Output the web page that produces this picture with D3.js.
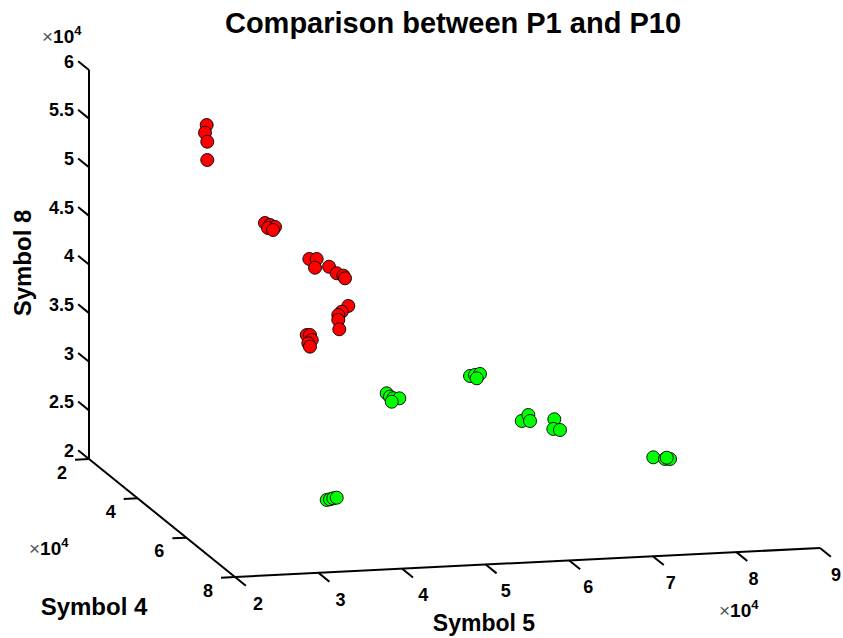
<!DOCTYPE html>
<html>
<head>
<meta charset="utf-8">
<script src="https://cdn.jsdelivr.net/npm/d3@7"></script>
<style>
  html, body { margin: 0; padding: 0; background: #fff; }
  svg { display: block; font-family: "Liberation Sans", Arial, sans-serif; }
</style>
</head>
<body>
<svg id="chart" width="843" height="638"></svg>
<script>
// ---------------- data ----------------
const title = "Comparison between P1 and P10";
const xLabel = "Symbol 5";
const yLabel = "Symbol 4";
const zLabel = "Symbol 8";

const xDomain = [20000, 90000];
const yDomain = [20000, 80000];
const zDomain = [20000, 60000];

const xTickValues = [20000, 30000, 40000, 50000, 60000, 70000, 80000, 90000];
const yTickValues = [20000, 40000, 60000, 80000];
const zTickValues = [20000, 25000, 30000, 35000, 40000, 45000, 50000, 55000, 60000];

// P1 (red)
const p1Symbol5 = [31170, 30970, 31240, 31240,
  36690, 37290, 37890, 37050, 37650,
  40540, 41420, 41220, 42900, 43820, 44610, 44810,
  43140, 43530, 43740, 43330, 43530,
  43750, 42960, 42550, 42550, 42670];
const p1Symbol4 = [30000, 30000, 30000, 30000,
  35000, 35000, 35000, 35000, 35000,
  40000, 40000, 40000, 40000, 40000, 40000, 40000,
  30000, 30000, 30000, 30000, 30000,
  45000, 45000, 45000, 45000, 45000];
const p1Symbol8 = [55890, 55110, 54170, 52290,
  46590, 46360, 46130, 46060, 45830,
  43740, 43700, 42810, 42840, 42130, 41850, 41570,
  33790, 33770, 33250, 32930, 32570,
  39780, 39230, 38900, 38390, 37430];

// P10 (green)
const p10Symbol5 = [38250, 38650, 39040, 39450,
  49800, 50190, 50590, 51310, 50400,
  56860, 57450, 58050, 57660,
  61590, 62380, 62580,
  64030, 63910, 64710,
  77330, 78730, 79330, 78940];
const p10Symbol4 = [55000, 55000, 55000, 55000,
  40000, 40000, 40000, 40000, 40000,
  50000, 50000, 50000, 50000,
  55000, 55000, 55000,
  60000, 60000, 60000,
  55000, 55000, 55000, 55000];
const p10Symbol8 = [22090, 22140, 22230, 22270,
  29530, 29170, 28990, 28950, 28640,
  33030, 33110, 33190, 32760,
  29220, 29800, 29170,
  30300, 29310, 29170,
  24810, 24580, 24550, 24700];

// ---------------- layout ----------------
const svg = d3.select("#chart");
const origin = [89, 459];          // screen point of (xmin, ymin, zmin)
const EX = [585, -29];             // screen vector of full x range
const EY = [146, 118];             // screen vector of full y range
const EZ = [0, -389];              // screen vector of full z range

const xs = d3.scaleLinear().domain(xDomain).range([0, 1]);
const ys = d3.scaleLinear().domain(yDomain).range([0, 1]);
const zs = d3.scaleLinear().domain(zDomain).range([0, 1]);

function project(x, y, z) {
  const a = xs(x), b = ys(y), c = zs(z);
  return [origin[0] + a * EX[0] + b * EY[0] + c * EZ[0],
          origin[1] + a * EX[1] + b * EY[1] + c * EZ[1]];
}
function unit(v) { const l = Math.hypot(v[0], v[1]); return [v[0] / l, v[1] / l]; }

const fmt = v => d3.format("~g")(v / 10000);
const tickLen = 14;
const tickFont = 18;
const axisG = svg.append("g").attr("stroke", "#000").attr("stroke-width", 2).attr("fill", "none");

// x axis at y = ymax, z = zmin
{
  const p0 = project(xDomain[0], yDomain[1], zDomain[0]);
  const p1 = project(xDomain[1], yDomain[1], zDomain[0]);
  axisG.append("line").attr("x1", p0[0]).attr("y1", p0[1]).attr("x2", p1[0]).attr("y2", p1[1]);
  const d = unit(EY);
  xTickValues.forEach(v => {
    const p = project(v, yDomain[1], zDomain[0]);
    axisG.append("line").attr("x1", p[0]).attr("y1", p[1])
      .attr("x2", p[0] + d[0] * tickLen).attr("y2", p[1] + d[1] * tickLen);
    svg.append("text").attr("x", p[0] + 23 - 7 * xs(v)).attr("y", p[1] + 28)
      .attr("text-anchor", "middle").attr("dominant-baseline", "middle")
      .attr("font-size", tickFont).attr("font-weight", "bold").text(fmt(v));
  });
}
// y axis at x = xmin, z = zmin
{
  const p0 = project(xDomain[0], yDomain[0], zDomain[0]);
  const p1 = project(xDomain[0], yDomain[1], zDomain[0]);
  axisG.append("line").attr("x1", p0[0]).attr("y1", p0[1]).attr("x2", p1[0]).attr("y2", p1[1]);
  const d = unit(EX);
  yTickValues.forEach(v => {
    const p = project(xDomain[0], v, zDomain[0]);
    axisG.append("line").attr("x1", p[0]).attr("y1", p[1])
      .attr("x2", p[0] - d[0] * tickLen).attr("y2", p[1] - d[1] * tickLen);
    svg.append("text").attr("x", p[0] - 27).attr("y", p[1] + 15)
      .attr("text-anchor", "middle").attr("dominant-baseline", "middle")
      .attr("font-size", tickFont).attr("font-weight", "bold").text(fmt(v));
  });
}
// z axis at x = xmin, y = ymin
{
  const p0 = project(xDomain[0], yDomain[0], zDomain[0]);
  const p1 = project(xDomain[0], yDomain[0], zDomain[1]);
  axisG.append("line").attr("x1", p0[0]).attr("y1", p0[1]).attr("x2", p1[0]).attr("y2", p1[1]);
  const d = unit(EY);
  zTickValues.forEach(v => {
    const p = project(xDomain[0], yDomain[0], v);
    axisG.append("line").attr("x1", p[0]).attr("y1", p[1])
      .attr("x2", p[0] - d[0] * tickLen).attr("y2", p[1] - d[1] * tickLen);
    svg.append("text").attr("x", p[0] - 15).attr("y", p[1] - 7)
      .attr("text-anchor", "end").attr("dominant-baseline", "middle")
      .attr("font-size", tickFont).attr("font-weight", "bold").text(fmt(v));
  });
}

// exponent labels
function expLabel(x, y) {
  const t = svg.append("text").attr("x", x).attr("y", y).attr("font-size", 19);
  t.append("tspan").attr("fill", "#555").attr("font-weight", "normal").text("\u00d7");
  t.append("tspan").attr("font-weight", "bold").text("10");
  t.append("tspan").attr("font-weight", "bold").attr("font-size", 13).attr("dy", -8).text("4");
}
expLabel(42, 43);
expLabel(29, 555);
expLabel(719, 617);

// titles
svg.append("text").attr("x", 453).attr("y", 33).attr("text-anchor", "middle")
  .attr("font-size", 29).attr("font-weight", "bold").text(title);
svg.append("text").attr("transform", "translate(31,263) rotate(-90)").attr("text-anchor", "middle")
  .attr("font-size", 24).attr("font-weight", "bold").text(zLabel);
svg.append("text").attr("x", 94).attr("y", 615).attr("text-anchor", "middle")
  .attr("font-size", 24).attr("font-weight", "bold").text(yLabel);
svg.append("text").attr("x", 484).attr("y", 631).attr("text-anchor", "middle")
  .attr("font-size", 23).attr("font-weight", "bold").text(xLabel);

// points
function drawSeries(xsArr, ysArr, zsArr, color) {
  const pts = xsArr.map((x, i) => project(x, ysArr[i], zsArr[i]));
  svg.append("g").selectAll("circle").data(pts).join("circle")
    .attr("cx", d => d[0]).attr("cy", d => d[1]).attr("r", 6.5)
    .attr("fill", color).attr("stroke", "#000").attr("stroke-width", 0.9);
}
drawSeries(p1Symbol5, p1Symbol4, p1Symbol8, "#ff0000");
drawSeries(p10Symbol5, p10Symbol4, p10Symbol8, "#00ff00");
</script>
</body>
</html>
